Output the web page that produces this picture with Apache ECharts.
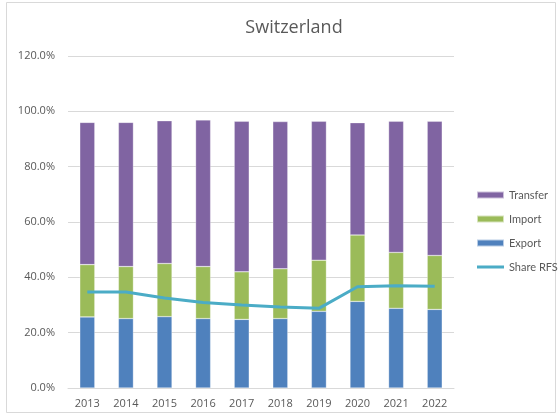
<!DOCTYPE html>
<html>
<head>
<meta charset="utf-8">
<script src="https://cdn.jsdelivr.net/npm/echarts@6/dist/echarts.min.js"></script>
<style>
html,body{margin:0;padding:0;background:#fff;}
#chart{width:558px;height:414px;}
</style>
</head>
<body>
<div id="chart"></div>
<script>
// data (percent)
var years = ['2013','2014','2015','2016','2017','2018','2019','2020','2021','2022'];
var exportVals = [25.7, 25.1, 25.8, 25.1, 24.8, 25.1, 27.7, 31.3, 28.8, 28.4];
var importVals = [18.9, 18.8, 19.2, 18.8, 17.2, 18.0, 18.5, 24.0, 20.2, 19.5];
var transferVals = [51.4, 52.1, 51.6, 53.0, 54.4, 53.2, 50.2, 40.6, 47.4, 48.5];
var shareRfs = [34.7, 34.7, 32.5, 30.9, 30.0, 29.3, 28.8, 36.6, 37.0, 36.8];

var txt = '#595959';
var fnt = 'Open Sans';

var myChart = echarts.init(document.getElementById('chart'));

function barSeries(name, vals, color){
	return {
		name: name,
		type: 'bar',
		stack: 'total',
		barWidth: 15,
		data: vals,
		itemStyle: {color: color, borderColor: 'rgba(255,255,255,0.6)', borderWidth: 0.5}
	};
}

var option = {
	animation: false,
	backgroundColor: '#fff',
	title: {
		text: 'Switzerland',
		left: 289,
		top: 14,
		textAlign: 'center',
		textStyle: {color: txt, fontSize: 18, fontWeight: 'normal', fontFamily: fnt}
	},
	graphic: [{
		type: 'rect',
		shape: {x: 6.5, y: 2.5, width: 549, height: 410},
		style: {fill: 'none', stroke: '#d9d9d9', lineWidth: 1},
		silent: true
	}],
	legend: {
		orient: 'vertical',
		left: 476,
		top: 188,
		padding: 0,
		itemGap: 10,
		itemWidth: 27,
		itemHeight: 7,
		textStyle: {color: txt, fontSize: 11, fontFamily: 'Lato', lineHeight: 14},
		data: [
			{name: 'Transfer', icon: 'rect'},
			{name: 'Import', icon: 'rect'},
			{name: 'Export', icon: 'rect'},
			{name: 'Share RFS', icon: 'path://M0,0L0.01,0M0,2H27V5H0ZM0,7L0.01,7'}
		]
	},
	grid: {left: 68, right: 104, top: 56, bottom: 26, containLabel: false},
	xAxis: {
		type: 'category',
		data: years,
		axisLine: {lineStyle: {color: '#d9d9d9'}},
		axisTick: {show: false},
		axisLabel: {color: txt, fontSize: 11, fontFamily: fnt, margin: 10}
	},
	yAxis: {
		type: 'value',
		min: 0,
		max: 120,
		interval: 20,
		axisLine: {show: false},
		axisTick: {show: false},
		splitLine: {lineStyle: {color: '#d9d9d9'}},
		axisLabel: {color: txt, fontSize: 11, fontFamily: fnt, margin: 13,
			formatter: function(v){ return v.toFixed(1) + '%'; }}
	},
	series: [
		barSeries('Export', exportVals, '#4F81BD'),
		barSeries('Import', importVals, '#9BBB59'),
		barSeries('Transfer', transferVals, '#8064A2'),
		{
			name: 'Share RFS',
			type: 'line',
			data: shareRfs,
			symbol: 'none',
			lineStyle: {color: '#4BACC6', width: 3},
			itemStyle: {color: '#4BACC6'},
			z: 5
		}
	]
};

myChart.setOption(option);
</script>
</body>
</html>
